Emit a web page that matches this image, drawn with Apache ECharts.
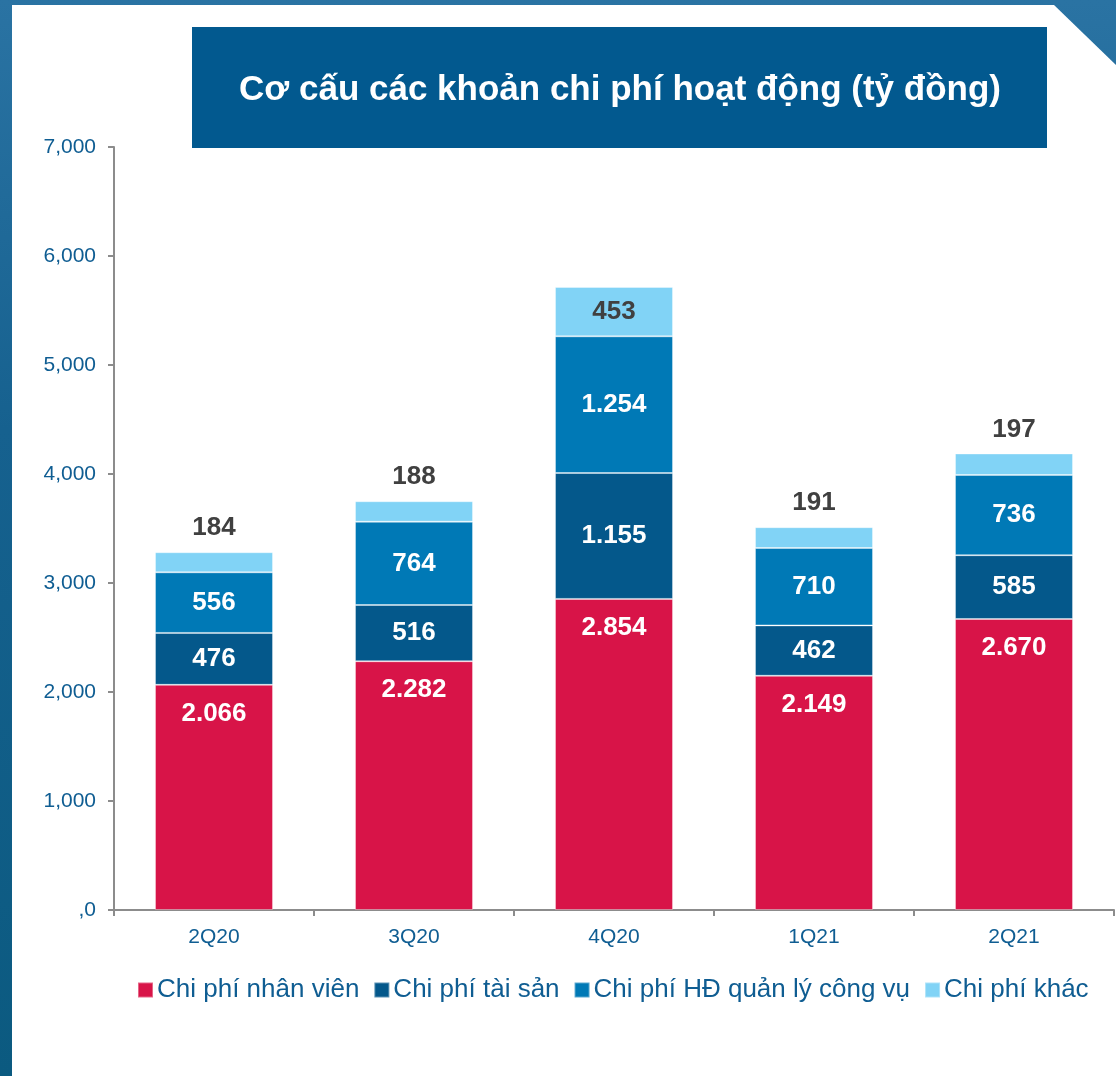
<!DOCTYPE html>
<html>
<head>
<meta charset="utf-8">
<script src="https://cdn.jsdelivr.net/npm/echarts@6/dist/echarts.min.js"></script>
<style>
  html, body { margin: 0; padding: 0; }
  body {
    width: 1116px;
    height: 1076px;
    position: relative;
    overflow: hidden;
    background: linear-gradient(180deg, #2a73a3 0%, #16618f 40%, #0b5a80 100%);
  }
  #panel {
    position: absolute;
    left: 12px; top: 5px; right: 0; bottom: 0;
    background: #fff;
    clip-path: polygon(0 0, calc(100% - 62px) 0, 100% 60px, 100% 100%, 0 100%);
  }
  #chart {
    position: absolute;
    left: 0; top: 0;
    width: 1116px;
    height: 1076px;
  }
</style>
</head>
<body>
<div id="panel"></div>
<div id="chart"></div>
<script>
// du lieu
const quarters = ['2Q20', '3Q20', '4Q20', '1Q21', '2Q21']
const nhanVien = [2066, 2282, 2854, 2149, 2670]
const taiSan = [476, 516, 1155, 462, 585]
const quanLy = [556, 764, 1254, 710, 736]
const khac = [184, 188, 453, 191, 197]

const seriesNames = ['Chi phí nhân viên', 'Chi phí tài sản', 'Chi phí HĐ quản lý công vụ', 'Chi phí khác']
const colors = ['#d81448', '#04588b', '#0079b6', '#81d3f6']

const font = "'Liberation Sans', Arial, sans-serif"
const axisBlue = '#0f5d92'

// so dang 2.066
const dotFmt = (v) => String(v).replace(/\B(?=(\d{3})+(?!\d))/g, '.')

const valueLabel = {
  show: true,
  color: '#fff',
  fontFamily: font,
  fontWeight: 'bold',
  fontSize: 26,
  formatter: (p) => dotFmt(p.value)
}

const chart = echarts.init(document.getElementById('chart'))

const stackSeries = [nhanVien, taiSan, quanLy].map((arr, i) => ({
  name: seriesNames[i],
  type: 'bar',
  stack: 'total',
  barWidth: '59%',
  itemStyle: { color: colors[i], borderColor: 'rgba(255,255,255,0.35)', borderWidth: 1 },
  label: Object.assign({}, valueLabel, i === 0
    ? { position: 'insideTop', distance: 16 }
    : { position: 'inside' }),
  data: arr
}))

// chi phi khac: nhan ben tren cot, rieng cot lon thi ben trong
const maxKhac = Math.max(...khac)
stackSeries.push({
  name: seriesNames[3],
  type: 'bar',
  stack: 'total',
  barWidth: '59%',
  itemStyle: { color: colors[3], borderColor: 'rgba(255,255,255,0.35)', borderWidth: 1 },
  label: Object.assign({}, valueLabel, { color: '#404040', position: 'top', distance: 11 }),
  data: khac.map(v => v === maxKhac
    ? { value: v, label: { position: 'inside', distance: 5 } }
    : v)
})

const option = {
  animation: false,
  textStyle: { fontFamily: font },
  graphic: [
    {
      type: 'rect',
      left: 192,
      top: 27,
      shape: { width: 855, height: 121 },
      style: { fill: '#02598f' },
      z: 0
    },
    {
      type: 'text',
      x: 620,
      y: 90,
      style: {
        text: 'Cơ cấu các khoản chi phí hoạt động (tỷ đồng)',
        fill: '#fff',
        font: 'bold 35px ' + font,
        align: 'center',
        verticalAlign: 'middle'
      },
      z: 1
    }
  ],
  legend: {
    bottom: 68,
    left: 132,
    itemWidth: 15,
    itemHeight: 15,
    itemGap: 14,
    icon: 'rect',
    textStyle: { color: axisBlue, fontSize: 26, fontFamily: font, padding: [0, 0, 0, -1] },
    data: seriesNames
  },
  grid: {
    left: 114,
    right: 2,
    top: 147,
    bottom: 166
  },
  xAxis: {
    type: 'category',
    data: quarters,
    axisLine: { lineStyle: { color: '#8c8c8c', width: 2 } },
    axisTick: { show: true, length: 6, lineStyle: { color: '#8c8c8c', width: 2 } },
    axisLabel: { color: axisBlue, fontSize: 21, margin: 17, fontFamily: font }
  },
  yAxis: {
    type: 'value',
    min: 0,
    max: 7000,
    interval: 1000,
    splitLine: { show: false },
    axisLine: { show: true, lineStyle: { color: '#8c8c8c', width: 2 } },
    axisTick: { show: true, length: 6, lineStyle: { color: '#8c8c8c', width: 2 } },
    axisLabel: {
      color: axisBlue,
      fontSize: 21,
      margin: 18,
      fontFamily: font,
      formatter: (v) => v === 0 ? ',0' : v.toLocaleString('en-US')
    }
  },
  series: stackSeries
}

chart.setOption(option)
</script>
</body>
</html>
